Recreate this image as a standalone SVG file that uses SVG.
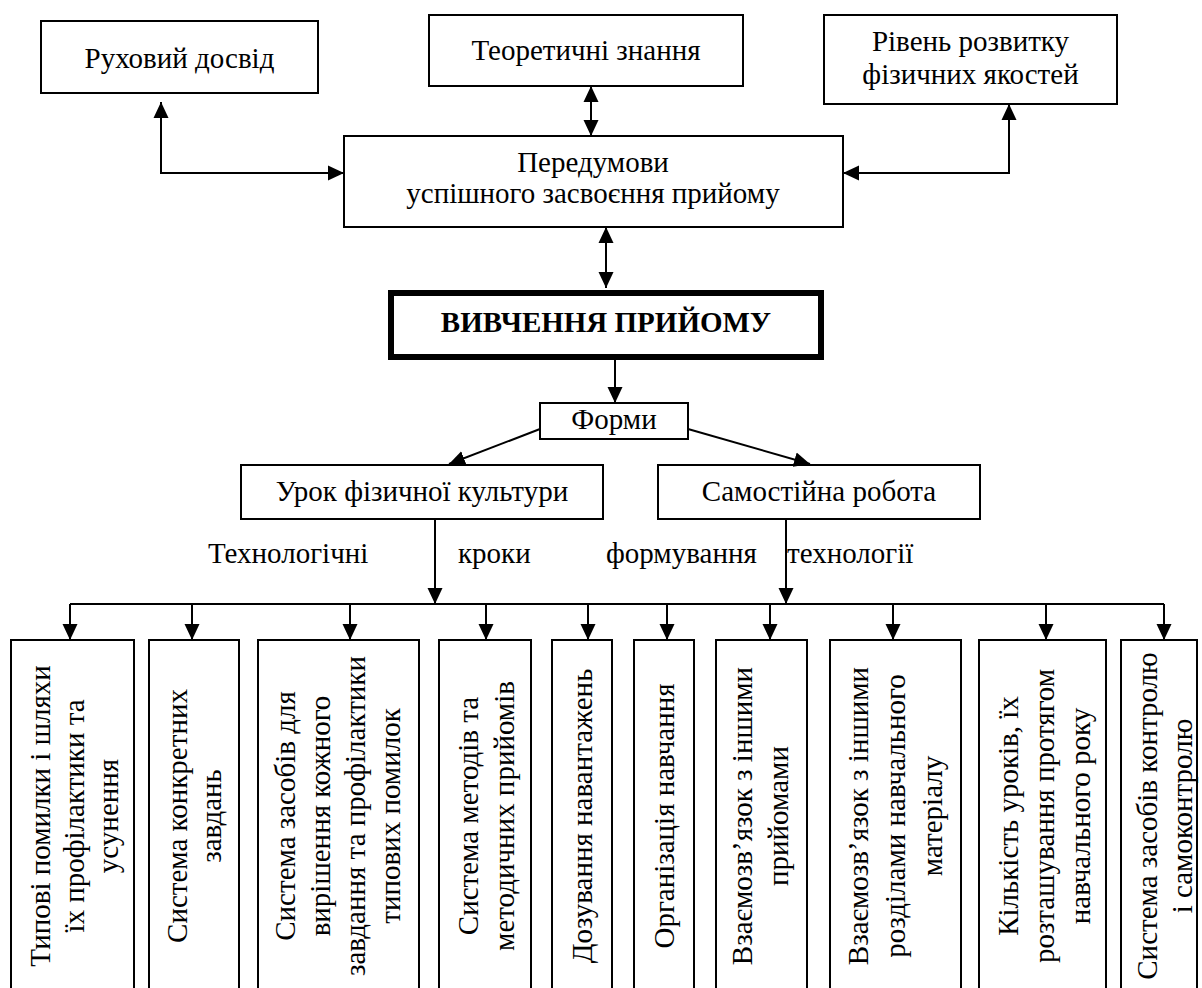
<svg xmlns="http://www.w3.org/2000/svg" width="1202" height="988" viewBox="0 0 1202 988">
<style>
.box{fill:#fff;stroke:#000;stroke-width:2}
.main{fill:#fff;stroke:#000;stroke-width:6}
.t{font-family:'Liberation Serif','Times New Roman',serif;font-size:29px;fill:#000}
.c{text-anchor:middle}
.b{font-weight:bold}
.con{fill:none;stroke:#000;stroke-width:2}
</style>
<defs>
<marker id="ah" markerUnits="userSpaceOnUse" markerWidth="16" markerHeight="16" viewBox="0 0 16 16" refX="16" refY="8" orient="auto-start-reverse">
<path d="M0,0.5 L16,8 L0,15.5 z" fill="#000"/>
</marker>
</defs>
<rect width="1202" height="988" fill="#fff"/>

<g id="n-ruh"><rect class="box" x="41" y="21" width="277" height="72"/><text class="t c" x="179.5" y="68">Руховий досвід</text></g>
<g id="n-teor"><rect class="box" x="429" y="15" width="314" height="71"/><text class="t c" x="586" y="60">Теоретичні знання</text></g>
<g id="n-riv"><rect class="box" x="824" y="15" width="293" height="89"/><text class="t c" x="970.5" y="51">Рівень розвитку</text><text class="t c" x="970.5" y="84">фізичних якостей</text></g>
<g id="n-pered"><rect class="box" x="344" y="136" width="499" height="91"/><text class="t c" x="593" y="172">Передумови</text><text class="t c" x="593" y="203">успішного засвоєння прийому</text></g>
<g id="n-vyv"><rect class="main" x="391" y="293" width="430" height="64"/><text class="t c b" x="606" y="332">ВИВЧЕННЯ ПРИЙОМУ</text></g>
<g id="n-formy"><rect class="box" x="540" y="403" width="148" height="36"/><text class="t c" x="614" y="429">Форми</text></g>
<g id="n-urok"><rect class="box" x="241" y="465" width="362" height="54"/><text class="t c" x="422" y="501">Урок фізичної культури</text></g>
<g id="n-sam"><rect class="box" x="658" y="465" width="322" height="54"/><text class="t c" x="819" y="501">Самостійна робота</text></g>

<g id="labels">
<text class="t" x="208" y="563">Технологічні</text>
<text class="t" x="458" y="563">кроки</text>
<text class="t" x="606" y="563">формування</text>
<text class="t" x="787" y="563">технології</text>
</g>

<g id="n-b1"><rect class="box" x="11" y="640" width="123" height="360"/>
<g transform="translate(0,816) rotate(-90)"><text class="t c" x="0" y="50">Типові помилки і шляхи</text><text class="t c" x="0" y="84">їх профілактики та</text><text class="t c" x="0" y="118">усунення</text></g></g>
<g id="n-b2"><rect class="box" x="149" y="640" width="90" height="360"/>
<g transform="translate(0,816) rotate(-90)"><text class="t c" x="0" y="187">Система конкретних</text><text class="t c" x="0" y="221">завдань</text></g></g>
<g id="n-b3"><rect class="box" x="258" y="640" width="161" height="360"/>
<g transform="translate(0,816) rotate(-90)"><text class="t c" x="0" y="295">Система засобів для</text><text class="t c" x="0" y="330">вирішення кожного</text><text class="t c" x="0" y="365">завдання та профілактики</text><text class="t c" x="0" y="400">типових помилок</text></g></g>
<g id="n-b4"><rect class="box" x="439" y="640" width="92" height="360"/>
<g transform="translate(0,816) rotate(-90)"><text class="t c" x="0" y="478">Система методів та</text><text class="t c" x="0" y="514">методичних прийомів</text></g></g>
<g id="n-b5"><rect class="box" x="552" y="640" width="60" height="360"/>
<g transform="translate(0,816) rotate(-90)"><text class="t c" x="0" y="592">Дозування навантажень</text></g></g>
<g id="n-b6"><rect class="box" x="634" y="640" width="60" height="360"/>
<g transform="translate(0,816) rotate(-90)"><text class="t c" x="0" y="674">Організація навчання</text></g></g>
<g id="n-b7"><rect class="box" x="716" y="640" width="91" height="360"/>
<g transform="translate(0,816) rotate(-90)"><text class="t c" x="0" y="752">Взаємозв’язок з іншими</text><text class="t c" x="0" y="788">прийомами</text></g></g>
<g id="n-b8"><rect class="box" x="830" y="640" width="131" height="360"/>
<g transform="translate(0,816) rotate(-90)"><text class="t c" x="0" y="868">Взаємозв’язок з іншими</text><text class="t c" x="0" y="905">розділами навчального</text><text class="t c" x="0" y="942">матеріалу</text></g></g>
<g id="n-b9"><rect class="box" x="979" y="640" width="127" height="360"/>
<g transform="translate(0,816) rotate(-90)"><text class="t c" x="0" y="1018">Кількість уроків, їх</text><text class="t c" x="0" y="1054">розташування протягом</text><text class="t c" x="0" y="1090">навчального року</text></g></g>
<g id="n-b10"><rect class="box" x="1121" y="640" width="76" height="360"/>
<g transform="translate(0,816) rotate(-90)"><text class="t c" x="0" y="1157">Система засобів контролю</text><text class="t c" x="0" y="1192">і самоконтролю</text></g></g>

<g id="connectors">
<path class="con" d="M161,102 V173 H344" marker-start="url(#ah)" marker-end="url(#ah)"/>
<path class="con" d="M843,173 H1009 V104" marker-start="url(#ah)" marker-end="url(#ah)"/>
<path class="con" d="M591,86 V136" marker-start="url(#ah)" marker-end="url(#ah)"/>
<path class="con" d="M606,227 V288" marker-start="url(#ah)" marker-end="url(#ah)"/>
<path class="con" d="M615,360 V403" marker-end="url(#ah)"/>
<path class="con" d="M540,429 L449,464" marker-end="url(#ah)"/>
<path class="con" d="M688,429 L810,464" marker-end="url(#ah)"/>
<path class="con" d="M435,519 V604" marker-end="url(#ah)"/>
<path class="con" d="M786,519 V604" marker-end="url(#ah)"/>
<path class="con" d="M70,604 H1164"/>
<path class="con" d="M70,604 V640" marker-end="url(#ah)"/>
<path class="con" d="M192,604 V640" marker-end="url(#ah)"/>
<path class="con" d="M350,604 V640" marker-end="url(#ah)"/>
<path class="con" d="M486,604 V640" marker-end="url(#ah)"/>
<path class="con" d="M588,604 V640" marker-end="url(#ah)"/>
<path class="con" d="M667,604 V640" marker-end="url(#ah)"/>
<path class="con" d="M770,604 V640" marker-end="url(#ah)"/>
<path class="con" d="M893,604 V640" marker-end="url(#ah)"/>
<path class="con" d="M1046,604 V640" marker-end="url(#ah)"/>
<path class="con" d="M1164,604 V640" marker-end="url(#ah)"/>
</g>
</svg>
